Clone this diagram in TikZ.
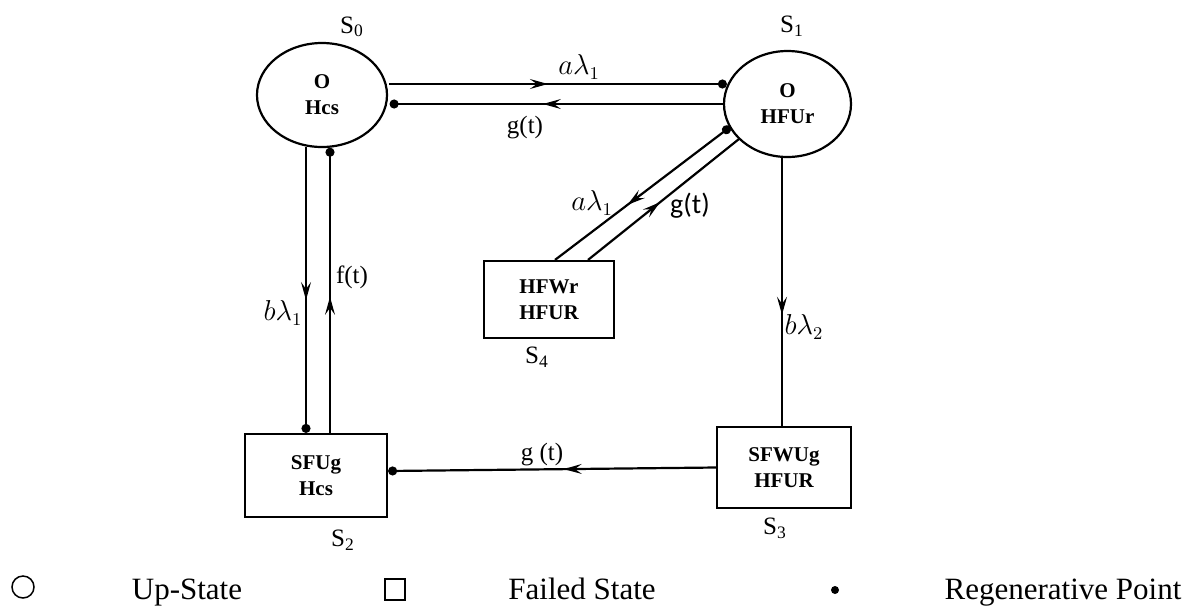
\documentclass[tikz,border=0pt]{standalone}
\usepackage{fontspec}
\setmainfont{Liberation Serif}
\newfontfamily\calibri{Carlito}
\usetikzlibrary{arrows.meta,calc,shapes.geometric}
\begin{document}
\begin{tikzpicture}[x=0.5pt,y=-0.5pt,
  lw/.style={line width=1.1pt},
  stateup/.style={ellipse, draw, lw, inner sep=0pt, align=center,
    font=\fontsize{10.5}{13}\selectfont\bfseries},
  statefail/.style={rectangle, draw, lw, inner sep=0pt, align=center,
    font=\fontsize{10.5}{13}\selectfont\bfseries},
  conn/.style={lw},
  tipmark/.style={line width=0.6pt, -{Stealth[length=9pt,width=5pt,inset=3.5pt]}},
  dotend/.style={-{Circle[length=4.5pt]}},
  dotstart/.style={{Circle[length=4.5pt]}-},
  lab/.style={font=\fontsize{12.5}{15}\selectfont, inner sep=0pt},
  mlab/.style={font=\fontsize{13.5}{16}\selectfont, inner sep=0pt},
  leg/.style={font=\fontsize{15.5}{18}\selectfont, inner sep=0pt, anchor=base},
]
\useasboundingbox (0,0) rectangle (1192,606);

% states
\node[stateup, minimum width=65pt, minimum height=52pt] (s0) at (322,95) {O\\Hcs};
\node[stateup, minimum width=63.5pt, minimum height=53pt] (s1) at (787.5,104) {O\\HFUr};
\node[statefail, minimum width=71pt, minimum height=41.5pt] (s2) at (316,475.5) {SFUg\\Hcs};
\node[statefail, minimum width=67pt, minimum height=40.5pt] (s3) at (784,467.5) {SFWUg\\HFUR};
\node[statefail, minimum width=65pt, minimum height=38.5pt] (s4) at (549,299.5) {HFWr\\HFUR};

% state labels
\node[lab] (ls0) at (352,27) {S\textsubscript{0}};
\node[lab] (ls1) at (792,26) {S\textsubscript{1}};
\node[lab] (ls2) at (343,540) {S\textsubscript{2}};
\node[lab] (ls3) at (775,528) {S\textsubscript{3}};
\node[lab] (ls4) at (537,357) {S\textsubscript{4}};

% connector end points
\coordinate (a1) at ($(s0.east)+(1,-11)$);   \coordinate (b1) at ($(s1.west)+(4,-20)$);
\coordinate (a2) at (s1.west);               \coordinate (b2) at ($(s0.east)+(1.5,9)$);
\coordinate (a3) at ($(s0.south)+(-16,-1.6)$); \coordinate (b3) at ($(s2.north)+(-10,0)$);
\coordinate (a4) at ($(s2.north)+(14,0)$);   \coordinate (b4) at ($(s0.south)+(8,-0.4)$);
\coordinate (a5) at ($(s1.south)+(-5.5,0)$); \coordinate (b5) at ($(s3.north)+(-2,0)$);
\coordinate (a6) at (s3.west);               \coordinate (b6) at ($(s2.east)+(0,-4.5)$);
\coordinate (a7) at ($(s1.center)+(-57.5,23)$); \coordinate (b7) at ($(s4.north)+(6,0)$);
\coordinate (a8) at ($(s4.north)+(39,0)$);   \coordinate (b8) at ($(s1.center)+(-48.5,35)$);

% transitions
\draw[conn, dotend] (a1) -- (b1);
\draw[tipmark] ($(a1)!0.40!(b1)$) -- ($(a1)!0.47!(b1)$);
\draw[conn, dotend] (a2) -- (b2);
\draw[tipmark] ($(a2)!0.47!(b2)$) -- ($(a2)!0.54!(b2)$);
\draw[conn, dotend] (a3) -- (b3);
\draw[tipmark] ($(a3)!0.46!(b3)$) -- ($(a3)!0.536!(b3)$);
\draw[conn, dotend] (a4) -- (b4);
\draw[tipmark] ($(a4)!0.40!(b4)$) -- ($(a4)!0.477!(b4)$);
\draw[conn] (a5) -- (b5);
\draw[tipmark] ($(a5)!0.50!(b5)$) -- ($(a5)!0.585!(b5)$);
\draw[conn, dotend] (a6) -- (b6);
\draw[tipmark] ($(a6)!0.40!(b6)$) -- ($(a6)!0.464!(b6)$);
\draw[conn, dotstart] (a7) -- (b7);
\draw[tipmark] ($(a7)!0.50!(b7)$) -- ($(a7)!0.586!(b7)$);
\draw[conn] (a8) -- (b8);
\draw[tipmark] ($(a8)!0.38!(b8)$) -- ($(a8)!0.477!(b8)$);

% transition labels
\node[mlab] (t01) at (579,67) {$a\lambda_1$};
\node[lab] (t10) at (525,128) {g(t)};
\node[mlab] (t02) at (283,313) {$b\lambda_1$};
\node[lab] (t20) at (352,277) {f(t)};
\node[mlab] (t13) at (804,327) {$b\lambda_2$};
\node[lab] (t32) at (542,455) {g (t)};
\node[mlab] (t14) at (592,203) {$a\lambda_1$};
\node[inner sep=0pt, font=\calibri\fontsize{14}{16}\selectfont] (t41) at (690,206) {g(t)};

% legend
\node[draw, circle, line width=0.75pt, minimum size=11pt, inner sep=0pt] (lgc) at (23,587) {};
\node[leg] (lgu) at (187,599) {Up-State};
\node[draw, line width=0.75pt, minimum width=10pt, minimum height=10.5pt, inner sep=0pt] (lgs) at (395,589.5) {};
\node[leg] (lgf) at (582,599) {Failed State};
\node[circle, fill, minimum size=4pt, inner sep=0pt] (lgd) at (835,590) {};
\node[leg] (lgr) at (1063,599) {Regenerative Point};
\end{tikzpicture}
\end{document}
